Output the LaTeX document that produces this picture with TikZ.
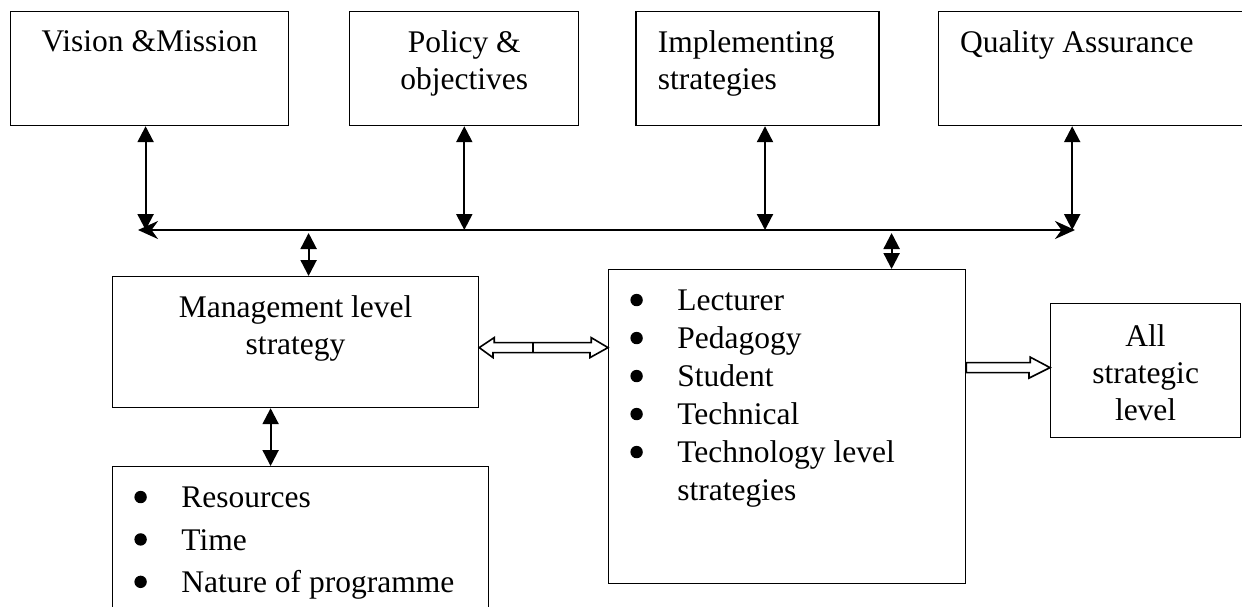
\documentclass[tikz,border=0pt]{standalone}
\usepackage{fontspec}
\setmainfont{Liberation Serif}
\usetikzlibrary{positioning, arrows.meta}

\newcommand{\itm}[1]{\makebox[23.5pt][l]{\tikz[baseline]\fill (3.1pt,5.3pt) circle (3.1pt);}#1}

\begin{document}
\begin{tikzpicture}[node distance=30pt, >=Stealth,
    font=\fontsize{15.75}{18.5}\selectfont,
    box/.style={draw, line width=0.6pt, inner sep=0pt, minimum height=57pt},
    caption/.style={anchor=north, inner sep=0pt, align=center, yshift=-9.5pt},
    leftcaption/.style={anchor=north west, inner sep=0pt, align=left, xshift=11pt, yshift=-9.5pt},
    listtxt/.style={anchor=north west, inner sep=0pt, align=left, xshift=11pt, yshift=-10.3pt},
    link/.style={{Triangle[length=8pt,width=8pt]}-{Triangle[length=8pt,width=8pt]}, line width=1.1pt},
    bus/.style={{Stealth[length=10pt,width=9pt]}-{Stealth[length=10pt,width=9pt]}, line width=1.1pt},
    hollow/.style={draw, fill=white, line width=0.8pt, line join=miter}]

\useasboundingbox (0,0) rectangle (621pt,-303pt);
\clip (0,0) rectangle (621pt,-303pt);

% Nodes for the top row
\node[box, minimum width=139pt, anchor=north west,
      label={[caption]north:Vision \&Mission}] (vision) at (5pt,-5.5pt) {};
\node[box, minimum width=114.5pt, right=30pt of vision,
      label={[caption]north:Policy \&\\objectives}] (policy) {};
\node[box, minimum width=121.5pt, right=28pt of policy,
      label={[leftcaption]north west:Implementing\\strategies}] (impl) {};
\node[box, minimum width=152pt, right=29pt of impl,
      label={[leftcaption]north west:Quality Assurance}] (quality) {};

% Nodes for the strategy levels
\node[box, minimum width=183pt, minimum height=65.5pt, anchor=north west,
      label={[caption]north:Management level\\strategy}] (mgmt) at (56pt,-138pt) {};
\node[box, minimum width=178.5pt, minimum height=157pt, anchor=north west,
      label={[listtxt, font=\fontsize{15.75}{19}\selectfont]north west:\itm{Lecturer}\\\itm{Pedagogy}\\\itm{Student}\\\itm{Technical}\\\itm{Technology level}\\\hspace*{23.5pt}strategies}] (tech) at (304pt,-134.5pt) {};
\node[box, minimum width=95pt, minimum height=67pt, anchor=north west,
      label={[caption, yshift=-1pt]north:All\\strategic\\level}] (all) at (525pt,-151.5pt) {};
\node[box, minimum width=188pt, minimum height=90pt, anchor=north west,
      label={[listtxt, font=\fontsize{15.75}{21.2}\selectfont]north west:\itm{Resources}\\\itm{Time}\\\itm{Nature of programme}}] (res) at (56pt,-233pt) {};

% common bus
\coordinate (busL) at (69pt,-115pt);
\coordinate (busR) at (537.5pt,-115pt);
\draw[bus] (busL) -- (busR);

% top row to bus
\draw[link] ([xshift=-2pt]vision.south) -- ([xshift=-2pt]vision.south |- busL);
\draw[link] (policy.south) -- (policy.south |- busL);
\draw[link] ([xshift=3.75pt]impl.south) -- ([xshift=3.75pt]impl.south |- busL);
\draw[link] ([xshift=-9pt]quality.south) -- ([xshift=-9pt]quality.south |- busL);

% bus to strategy levels
\draw[link] ([xshift=6.5pt,yshift=-1.5pt]mgmt.north |- busL) -- ([xshift=6.5pt]mgmt.north);
\draw[link] ([xshift=52.25pt,yshift=-1.5pt]tech.north |- busL) -- ([xshift=52.25pt]tech.north);
\draw[link] ([xshift=-12.5pt]mgmt.south) -- ([xshift=-12.5pt]mgmt.south |- res.north);

% hollow arrows
\coordinate (dl) at ([yshift=-2.75pt]mgmt.east);
\coordinate (dr) at (dl -| tech.west);
\draw[hollow] (dl) -- ++(7.5pt,5pt) -- ++(0,-2.5pt) -- ++(48.5pt,0) -- ++(0,2.5pt) -- (dr)
    -- ++(-9pt,-5pt) -- ++(0,2.5pt) -- ++(-48.5pt,0) -- ++(0,-2.5pt) -- cycle;
\draw[line width=0.8pt] ([xshift=27pt,yshift=2.5pt]dl) -- ++(0,-5pt);

\coordinate (ta) at ([yshift=29.5pt]tech.east);
\draw[hollow] ([yshift=2.5pt]ta) -- ++(32pt,0) -- ++(0,2.75pt) -- (ta -| all.west)
    -- ++(-10.5pt,-5.25pt) -- ++(0,2.75pt) -- ([yshift=-2.5pt]ta) -- cycle;

\end{tikzpicture}
\end{document}
